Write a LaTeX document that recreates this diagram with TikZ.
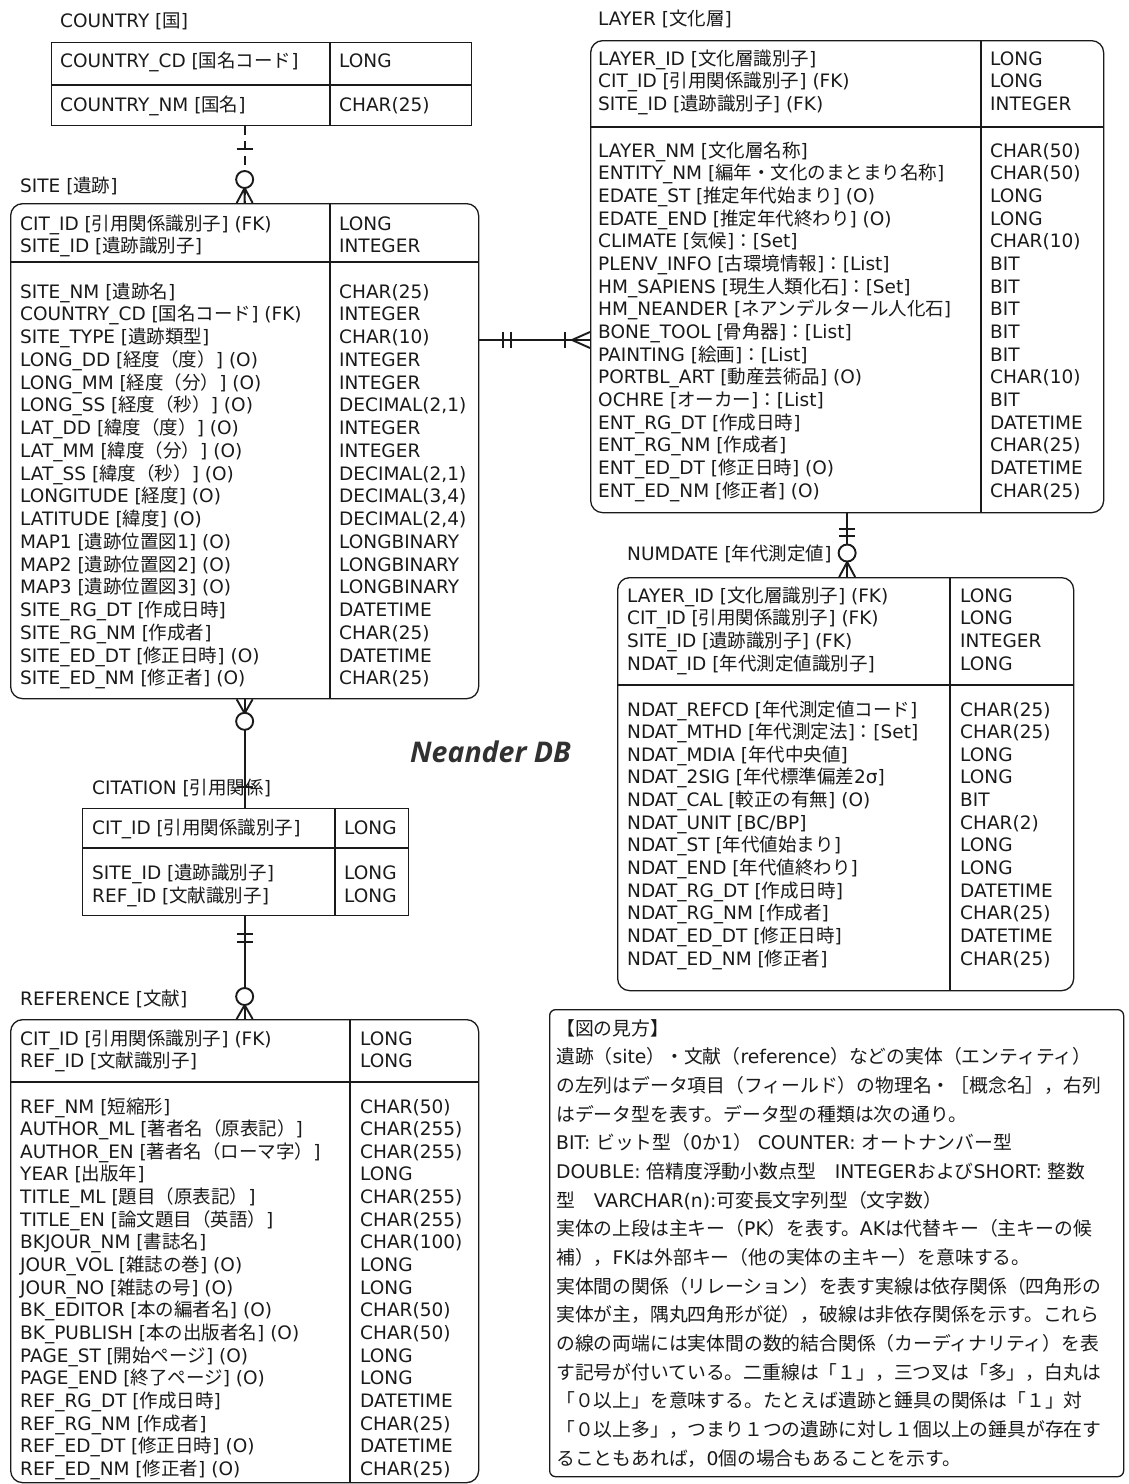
\documentclass[tikz,border=0pt]{standalone}
\usepackage{fontspec}
\setmainfont{DejaVu Sans}
\newfontfamily\latfont{DejaVu Sans}
\newfontfamily\cjkfont{Noto Sans CJK JP}
\newfontfamily\titlefont{Open Sans}
\newXeTeXintercharclass\cjkcls
\newcount\cjkcnt
\cjkcnt="2E80
\loop
  \XeTeXcharclass\cjkcnt=\cjkcls
  \advance\cjkcnt by 1
\ifnum\cjkcnt<"A000 \repeat
\cjkcnt="FF00
\loop
  \XeTeXcharclass\cjkcnt=\cjkcls
  \advance\cjkcnt by 1
\ifnum\cjkcnt<"FFF0 \repeat
\XeTeXinterchartoks 0 \cjkcls = {\cjkfont}
\XeTeXinterchartoks 4095 \cjkcls = {\cjkfont}
\XeTeXinterchartoks \cjkcls 0 = {\latfont}
\XeTeXinterchartoks \cjkcls 4095 = {\latfont}
\XeTeXinterchartokenstate=1
\definecolor{ink}{HTML}{1A1A1A}
\tikzset{
  txt/.style={anchor=base west, inner sep=0pt, text=ink, font=\fontsize{18.5}{22}\selectfont},
  ent/.style={draw=ink, line width=1.3pt, anchor=north west, inner sep=0pt},
  divl/.style={draw=ink, line width=1.3pt},
  conn/.style={draw=ink, line width=1.9pt},
}
\newcommand\tabrows[5]{%
  \foreach \t [count=\i] in {#5} {
    \node[txt] (#1\i) at (#2,{#3+7+(\i-1)*#4}) {\t};
  }}
\newcommand\legrows[4]{%
  \foreach \t [count=\i] in {#4} {
    \node[txt, font=\fontsize{18.8}{22}\selectfont] (#1\i) at (#2,{#3+7+(\i-1)*28.67}) {\t};
  }}
\begin{document}
\begin{tikzpicture}[x=1pt,y=-1pt]
\fill[white] (0,0) rectangle (1129,1484);
\useasboundingbox (0,0) rectangle (1129,1484);

% ---------------- COUNTRY
\node[txt] (countryT) at (60,27) {COUNTRY [国]};
\node[ent, minimum width=420pt, minimum height=83pt] (country) at (51,42) {};
\draw[divl] ([xshift=279pt]country.north west) -- ([xshift=279pt]country.south west);
\draw[divl] ([yshift=-43pt]country.north west) -- ([yshift=-43pt]country.north east);
\tabrows{countryA}{60}{60}{44}{{COUNTRY\_CD [国名コード]},{COUNTRY\_NM [国名]}}
\tabrows{countryB}{339}{60}{44}{LONG,{CHAR(25)}}

% ---------------- SITE
\node[txt] (siteT) at (20,192) {SITE [遺跡]};
\node[ent, rounded corners=12pt, minimum width=468pt, minimum height=495pt] (site) at (10,203) {};
\draw[divl] ([xshift=320pt]site.north west) -- ([xshift=320pt]site.south west);
\draw[divl] ([yshift=-59pt]site.north west) -- ([yshift=-59pt]site.north east);
\tabrows{siteK}{20}{223}{22.6}{{CIT\_ID [引用関係識別子] (FK)},{SITE\_ID [遺跡識別子]}}
\tabrows{siteKT}{339}{223}{22.6}{LONG,INTEGER}
\tabrows{siteA}{20}{291}{22.76}{%
{SITE\_NM [遺跡名]},
{COUNTRY\_CD [国名コード] (FK)},
{SITE\_TYPE [遺跡類型]},
{LONG\_DD [経度（度）] (O)},
{LONG\_MM [経度（分）] (O)},
{LONG\_SS [経度（秒）] (O)},
{LAT\_DD [緯度（度）] (O)},
{LAT\_MM [緯度（分）] (O)},
{LAT\_SS [緯度（秒）] (O)},
{LONGITUDE [経度] (O)},
{LATITUDE [緯度] (O)},
{MAP1 [遺跡位置図1] (O)},
{MAP2 [遺跡位置図2] (O)},
{MAP3 [遺跡位置図3] (O)},
{SITE\_RG\_DT [作成日時]},
{SITE\_RG\_NM [作成者]},
{SITE\_ED\_DT [修正日時] (O)},
{SITE\_ED\_NM [修正者] (O)}}
\tabrows{siteB}{339}{291}{22.76}{%
{CHAR(25)},INTEGER,{CHAR(10)},INTEGER,INTEGER,{DECIMAL(2,1)},INTEGER,INTEGER,{DECIMAL(2,1)},
{DECIMAL(3,4)},{DECIMAL(2,4)},LONGBINARY,LONGBINARY,LONGBINARY,DATETIME,{CHAR(25)},DATETIME,{CHAR(25)}}

% ---------------- LAYER
\node[txt] (layerT) at (598,25) {LAYER [文化層]};
\node[ent, rounded corners=12pt, minimum width=513pt, minimum height=472pt] (layer) at (590,40) {};
\draw[divl] ([xshift=391pt]layer.north west) -- ([xshift=391pt]layer.south west);
\draw[divl] ([yshift=-87pt]layer.north west) -- ([yshift=-87pt]layer.north east);
\tabrows{layerK}{598}{58}{22.6}{{LAYER\_ID [文化層識別子]},{CIT\_ID [引用関係識別子] (FK)},{SITE\_ID [遺跡識別子] (FK)}}
\tabrows{layerKT}{990}{58}{22.6}{LONG,LONG,INTEGER}
\tabrows{layerA}{598}{150}{22.67}{%
{LAYER\_NM [文化層名称]},
{ENTITY\_NM [編年・文化のまとまり名称]},
{EDATE\_ST [推定年代始まり] (O)},
{EDATE\_END [推定年代終わり] (O)},
{CLIMATE [気候]：[Set]},
{PLENV\_INFO [古環境情報]：[List]},
{HM\_SAPIENS [現生人類化石]：[Set]},
{HM\_NEANDER [ネアンデルタール人化石]},
{BONE\_TOOL [骨角器]：[List]},
{PAINTING [絵画]：[List]},
{PORTBL\_ART [動産芸術品] (O)},
{OCHRE [オーカー]：[List]},
{ENT\_RG\_DT [作成日時]},
{ENT\_RG\_NM [作成者]},
{ENT\_ED\_DT [修正日時] (O)},
{ENT\_ED\_NM [修正者] (O)}}
\tabrows{layerB}{990}{150}{22.67}{%
{CHAR(50)},{CHAR(50)},LONG,LONG,{CHAR(10)},BIT,BIT,BIT,BIT,BIT,{CHAR(10)},BIT,DATETIME,{CHAR(25)},DATETIME,{CHAR(25)}}

% ---------------- NUMDATE
\node[txt] (numdateT) at (627,560) {NUMDATE [年代測定値]};
\node[ent, rounded corners=12pt, minimum width=456pt, minimum height=413pt] (numdate) at (617,577) {};
\draw[divl] ([xshift=333pt]numdate.north west) -- ([xshift=333pt]numdate.south west);
\draw[divl] ([yshift=-108pt]numdate.north west) -- ([yshift=-108pt]numdate.north east);
\tabrows{numK}{627}{595}{22.67}{{LAYER\_ID [文化層識別子] (FK)},{CIT\_ID [引用関係識別子] (FK)},{SITE\_ID [遺跡識別子] (FK)},{NDAT\_ID [年代測定値識別子]}}
\tabrows{numKT}{960}{595}{22.67}{LONG,LONG,INTEGER,LONG}
\tabrows{numA}{627}{709}{22.64}{%
{NDAT\_REFCD [年代測定値コード]},
{NDAT\_MTHD [年代測定法]：[Set]},
{NDAT\_MDIA [年代中央値]},
{NDAT\_2SIG [年代標準偏差2σ]},
{NDAT\_CAL [較正の有無] (O)},
{NDAT\_UNIT [BC/BP]},
{NDAT\_ST [年代値始まり]},
{NDAT\_END [年代値終わり]},
{NDAT\_RG\_DT [作成日時]},
{NDAT\_RG\_NM [作成者]},
{NDAT\_ED\_DT [修正日時]},
{NDAT\_ED\_NM [修正者]}}
\tabrows{numB}{960}{709}{22.64}{%
{CHAR(25)},{CHAR(25)},LONG,LONG,BIT,{CHAR(2)},LONG,LONG,DATETIME,{CHAR(25)},DATETIME,{CHAR(25)}}

% ---------------- CITATION
\node[txt] (citationT) at (92,794) {CITATION [引用関係]};
\node[ent, minimum width=326pt, minimum height=107pt] (citation) at (82,808) {};
\draw[divl] ([xshift=253pt]citation.north west) -- ([xshift=253pt]citation.south west);
\draw[divl] ([yshift=-40pt]citation.north west) -- ([yshift=-40pt]citation.north east);
\tabrows{citK}{92}{827}{22}{{CIT\_ID [引用関係識別子]}}
\tabrows{citKT}{344}{827}{22}{LONG}
\tabrows{citA}{92}{872}{23}{{SITE\_ID [遺跡識別子]},{REF\_ID [文献識別子]}}
\tabrows{citB}{344}{872}{23}{LONG,LONG}

% ---------------- REFERENCE
\node[txt] (referenceT) at (20,1005) {REFERENCE [文献]};
\node[ent, rounded corners=12pt, minimum width=468pt, minimum height=463pt] (reference) at (10,1019) {};
\draw[divl] ([xshift=340pt]reference.north west) -- ([xshift=340pt]reference.south west);
\draw[divl] ([yshift=-63pt]reference.north west) -- ([yshift=-63pt]reference.north east);
\tabrows{refK}{20}{1038}{22.4}{{CIT\_ID [引用関係識別子] (FK)},{REF\_ID [文献識別子]}}
\tabrows{refKT}{360}{1038}{22.4}{LONG,LONG}
\tabrows{refA}{20}{1106}{22.66}{%
{REF\_NM [短縮形]},
{AUTHOR\_ML [著者名（原表記）]},
{AUTHOR\_EN [著者名（ローマ字）]},
{YEAR [出版年]},
{TITLE\_ML [題目（原表記）]},
{TITLE\_EN [論文題目（英語）]},
{BKJOUR\_NM [書誌名]},
{JOUR\_VOL [雑誌の巻] (O)},
{JOUR\_NO [雑誌の号] (O)},
{BK\_EDITOR [本の編者名] (O)},
{BK\_PUBLISH [本の出版者名] (O)},
{PAGE\_ST [開始ページ] (O)},
{PAGE\_END [終了ページ] (O)},
{REF\_RG\_DT [作成日時]},
{REF\_RG\_NM [作成者]},
{REF\_ED\_DT [修正日時] (O)},
{REF\_ED\_NM [修正者] (O)}}
\tabrows{refB}{360}{1106}{22.66}{%
{CHAR(50)},{CHAR(255)},{CHAR(255)},LONG,{CHAR(255)},{CHAR(255)},{CHAR(100)},LONG,LONG,{CHAR(50)},{CHAR(50)},LONG,LONG,DATETIME,{CHAR(25)},DATETIME,{CHAR(25)}}

% ---------------- title
\node[anchor=base west, inner sep=0pt, text=ink!90, font=\titlefont\bfseries\itshape\fontsize{28.5}{30}\selectfont] (dbname) at (410,762) {Neander DB};

% ---------------- legend
\node[ent, rounded corners=6pt, minimum width=574pt, minimum height=467pt] (legend) at (549,1009) {};
\legrows{leg}{556}{1028}{%
{【図の見方】},
{遺跡（site）・文献（reference）などの実体（エンティティ）},
{の左列はデータ項目（フィールド）の物理名・［概念名］，右列},
{はデータ型を表す。データ型の種類は次の通り。},
{BIT: ビット型（0か1） COUNTER: オートナンバー型},
{DOUBLE: 倍精度浮動小数点型　INTEGERおよびSHORT: 整数},
{型　VARCHAR(n):可変長文字列型（文字数）},
{実体の上段は主キー（PK）を表す。AKは代替キー（主キーの候},
{補），FKは外部キー（他の実体の主キー）を意味する。},
{実体間の関係（リレーション）を表す実線は依存関係（四角形の},
{実体が主，隅丸四角形が従），破線は非依存関係を示す。これら},
{の線の両端には実体間の数的結合関係（カーディナリティ）を表},
{す記号が付いている。二重線は「１」，三つ叉は「多」，白丸は},
{「０以上」を意味する。たとえば遺跡と錘具の関係は「１」対},
{「０以上多」，つまり１つの遺跡に対し１個以上の錘具が存在す},
{ることもあれば，0個の場合もあることを示す。}}

% ---------------- connectors
% COUNTRY -- SITE (dashed)
\coordinate (c1a) at (country.south -| site.north);
\draw[conn, dash pattern=on 9pt off 6pt] (c1a) -- (site.north);
\draw[conn] ([xshift=-8pt,yshift=-23pt]c1a) -- ([xshift=8pt,yshift=-23pt]c1a);
\draw[conn] ([yshift=15pt]site.north) -- ([xshift=-8pt]site.north)
            ([yshift=15pt]site.north) -- (site.north)
            ([yshift=15pt]site.north) -- ([xshift=8pt]site.north);
\draw[conn, fill=white] ([yshift=23.5pt]site.north) circle (8.5pt);

% SITE -- LAYER
\coordinate (ylev) at (0,340);
\coordinate (c2a) at (site.east |- ylev);
\coordinate (c2b) at (layer.west |- ylev);
\draw[conn] (c2a) -- (c2b);
\draw[conn] ([xshift=24pt,yshift=8pt]c2a) -- ([xshift=24pt,yshift=-8pt]c2a);
\draw[conn] ([xshift=32pt,yshift=8pt]c2a) -- ([xshift=32pt,yshift=-8pt]c2a);
\draw[conn] ([xshift=-25pt,yshift=8pt]c2b) -- ([xshift=-25pt,yshift=-8pt]c2b);
\draw[conn] ([xshift=-18pt]c2b) -- ([yshift=8pt]c2b)
            ([xshift=-18pt]c2b) -- ([yshift=-8pt]c2b);

% LAYER -- NUMDATE
\coordinate (c3b) at (numdate.north -| layer.south);
\draw[conn] (layer.south) -- (c3b);
\draw[conn] ([xshift=-8pt,yshift=-16pt]layer.south) -- ([xshift=8pt,yshift=-16pt]layer.south);
\draw[conn] ([xshift=-8pt,yshift=-23pt]layer.south) -- ([xshift=8pt,yshift=-23pt]layer.south);
\draw[conn] ([yshift=15pt]c3b) -- ([xshift=-8pt]c3b)
            ([yshift=15pt]c3b) -- ([xshift=8pt]c3b);
\draw[conn, fill=white] ([yshift=24pt]c3b) circle (8.5pt);

% SITE -- CITATION
\coordinate (c4b) at (citation.north -| site.south);
\draw[conn] (site.south) -- (c4b);
\draw[conn] ([yshift=-14pt]site.south) -- ([xshift=-8pt]site.south)
            ([yshift=-14pt]site.south) -- ([xshift=8pt]site.south);
\draw[conn, fill=white] ([yshift=-22pt]site.south) circle (8.5pt);
\draw[conn] ([xshift=-8pt,yshift=21pt]c4b) -- ([xshift=8pt,yshift=21pt]c4b);

% CITATION -- REFERENCE
\coordinate (c5a) at (citation.south -| reference.north);
\draw[conn] (c5a) -- (reference.north);
\draw[conn] ([xshift=-8pt,yshift=-18pt]c5a) -- ([xshift=8pt,yshift=-18pt]c5a);
\draw[conn] ([xshift=-8pt,yshift=-26pt]c5a) -- ([xshift=8pt,yshift=-26pt]c5a);
\draw[conn] ([yshift=14pt]reference.north) -- ([xshift=-8pt]reference.north)
            ([yshift=14pt]reference.north) -- ([xshift=8pt]reference.north);
\draw[conn, fill=white] ([yshift=22.5pt]reference.north) circle (8.5pt);
\end{tikzpicture}
\end{document}
